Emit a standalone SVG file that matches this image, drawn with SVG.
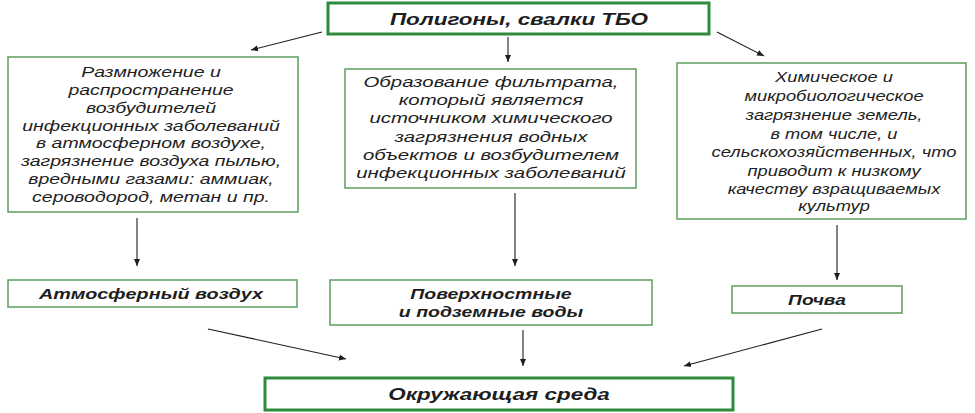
<svg xmlns="http://www.w3.org/2000/svg" width="975" height="413" viewBox="0 0 975 413">
<style>
.thick{fill:#fff;stroke:#2e8b3c;stroke-width:3}
.thin{fill:#fff;stroke:#5c9e5c;stroke-width:1.5}
.t{font-family:"Liberation Sans",Arial,sans-serif;font-style:italic;font-size:15px;fill:#1e1e1e;text-anchor:middle}
.b{font-weight:bold}
.big{font-size:17px}
.c{stroke:#1e1e1e;stroke-width:1.1;fill:none;marker-end:url(#ah)}
</style>
<defs>
<marker id="ah" markerWidth="8" markerHeight="8" refX="7" refY="4" orient="auto" markerUnits="userSpaceOnUse">
<path d="M0,1 L7,4 L0,7 z" fill="#1e1e1e"/>
</marker>
</defs>
<g id="n-top">
<rect class="thick" x="328" y="3" width="381" height="31"/>
<g transform="translate(519,0) scale(1.32,1)"><text class="t b big" x="0" y="25">Полигоны, свалки ТБО</text></g>
</g>
<g id="n-left">
<rect class="thin" x="8" y="57" width="290" height="155"/>
<g transform="translate(151,0) scale(1.3,1)">
<text class="t" x="0" y="77">Размножение и</text>
<text class="t" x="0" y="95">распространение</text>
<text class="t" x="0" y="113">возбудителей</text>
<text class="t" x="0" y="131">инфекционных заболеваний</text>
<text class="t" x="0" y="148">в атмосферном воздухе,</text>
<text class="t" x="0" y="166">загрязнение воздуха пылью,</text>
<text class="t" x="0" y="184">вредными газами: аммиак,</text>
<text class="t" x="0" y="202">сероводород, метан и пр.</text>
</g>
</g>
<g id="n-mid">
<rect class="thin" x="345" y="69" width="291" height="119"/>
<g transform="translate(491,0) scale(1.36,1)">
<text class="t" x="0" y="87">Образование фильтрата,</text>
<text class="t" x="0" y="105">который является</text>
<text class="t" x="0" y="123">источником  химического</text>
<text class="t" x="0" y="142">загрязнения водных</text>
<text class="t" x="0" y="160">объектов и возбудителем</text>
<text class="t" x="0" y="178">инфекционных заболеваний</text>
</g>
</g>
<g id="n-right">
<rect class="thin" x="677" y="63" width="289" height="156"/>
<g transform="translate(834,0) scale(1.22,1)">
<text class="t" x="0" y="82">Химическое и</text>
<text class="t" x="0" y="101">микробиологическое</text>
<text class="t" x="0" y="120">загрязнение земель,</text>
<text class="t" x="0" y="139">в том числе, и</text>
<text class="t" x="0" y="157">сельскохозяйственных, что</text>
<text class="t" x="0" y="176">приводит к низкому</text>
<text class="t" x="0" y="194">качеству взращиваемых</text>
<text class="t" x="0" y="211">культур</text>
</g>
</g>
<g id="n-air">
<rect class="thin" x="8" y="280" width="289" height="27"/>
<g transform="translate(151,0) scale(1.32,1)"><text class="t b" x="0" y="299">Атмосферный воздух</text></g>
</g>
<g id="n-water">
<rect class="thin" x="330" y="280" width="322" height="45"/>
<g transform="translate(491,0) scale(1.3,1)">
<text class="t b" x="0" y="299">Поверхностные</text>
<text class="t b" x="0" y="317">и подземные воды</text>
</g>
</g>
<g id="n-soil">
<rect class="thin" x="732" y="286" width="170" height="27"/>
<g transform="translate(817,0) scale(1.28,1)"><text class="t b" x="0" y="305">Почва</text></g>
</g>
<g id="n-env">
<rect class="thick" x="265" y="378" width="468" height="32"/>
<g transform="translate(499,0) scale(1.32,1)"><text class="t b big" x="0" y="400">Окружающая среда</text></g>
</g>
<g id="connectors">
<line class="c" x1="322" y1="32" x2="251" y2="50"/>
<line class="c" x1="508" y1="37" x2="508" y2="62"/>
<line class="c" x1="717" y1="32" x2="764" y2="56"/>
<line class="c" x1="137" y1="218" x2="137" y2="266"/>
<line class="c" x1="515" y1="193" x2="515" y2="266"/>
<line class="c" x1="837" y1="225" x2="837" y2="280"/>
<line class="c" x1="208" y1="329" x2="346" y2="359"/>
<line class="c" x1="523" y1="330" x2="523" y2="366"/>
<line class="c" x1="822" y1="329" x2="684" y2="366"/>
</g>
</svg>
